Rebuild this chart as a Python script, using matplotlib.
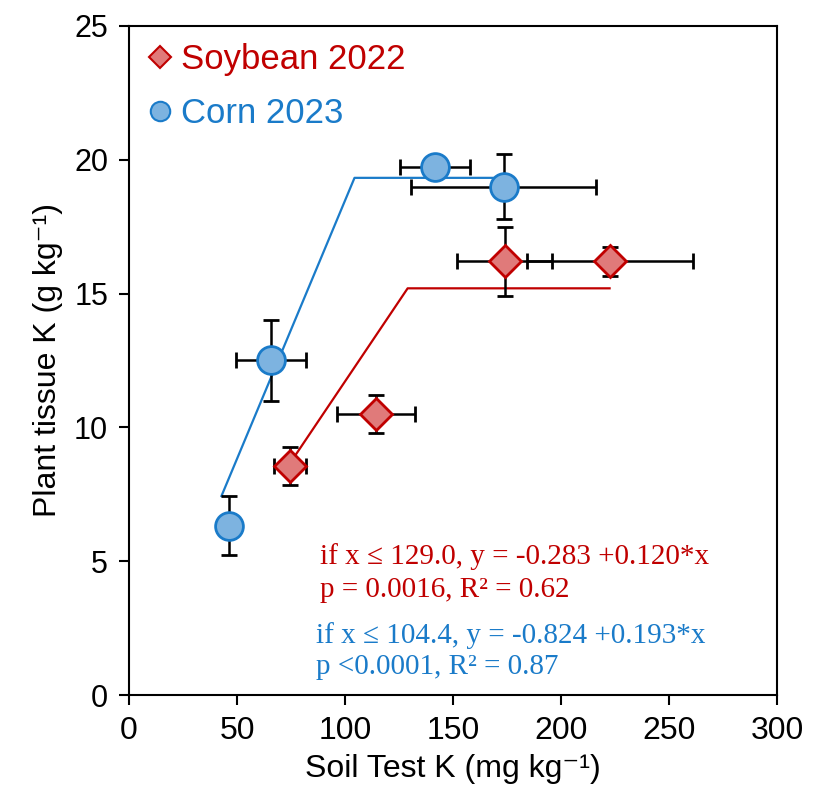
import matplotlib.pyplot as plt
from matplotlib.lines import Line2D

# Soybean 2022: soil test K vs tissue K with standard errors
soy_x = [74.5, 114.4, 174.0, 222.5]
soy_y = [8.55, 10.5, 16.2, 16.2]
soy_xerr = [7.6, 18.0, 22.0, 38.4]
soy_yerr = [0.7, 0.7, 1.3, 0.55]

# Corn 2023
corn_x = [46.3, 65.7, 141.5, 173.5]
corn_y = [6.32, 12.5, 19.72, 19.0]
corn_xerr = [2.5, 16.2, 16.2, 42.8]
corn_yerr = [1.1, 1.5, 0.4, 1.2]

# Linear-plateau fits: (intercept, slope, join point)
soy_fit = (-0.283, 0.120, 129.0)
corn_fit = (-0.824, 0.193, 104.4)

soy_eq = ["if x ≤ 129.0, y = -0.283 +0.120*x", "p = 0.0016, R² = 0.62"]
corn_eq = ["if x ≤ 104.4, y = -0.824 +0.193*x", "p <0.0001, R² = 0.87"]

red = '#C00000'
red_fill = '#E07A7A'
blue = '#1A7BC9'
blue_fill = '#7DB3E0'

narrow = ['Liberation Sans Narrow', 'Liberation Sans', 'DejaVu Sans']
sans = ['Liberation Sans', 'DejaVu Sans']
serif = ['Liberation Serif', 'DejaVu Serif']


def plateau_line(fit, x_start, x_end):
    b0, b1, jp = fit
    xs = [x_start, jp, x_end]
    ys = [b0 + b1 * x_start, b0 + b1 * jp, b0 + b1 * jp]
    return xs, ys


fig = plt.figure(figsize=(8.13, 8.02), dpi=100)
ax = fig.add_axes([0.1587, 0.1334, 0.797, 0.8342])

# fitted lines under the points
xs, ys = plateau_line(corn_fit, 42.8, max(corn_x))
ax.plot(xs, ys, color=blue, lw=1.6, zorder=2)
xs, ys = plateau_line(soy_fit, min(soy_x), max(soy_x))
ax.plot(xs, ys, color=red, lw=1.6, zorder=2)

ax.errorbar(soy_x, soy_y, xerr=soy_xerr, yerr=soy_yerr, fmt='D', ms=16,
            mfc=red_fill, mec=red, mew=2, ecolor='black', elinewidth=1.8,
            capsize=6, capthick=1.8, zorder=3)
ax.errorbar(corn_x, corn_y, xerr=corn_xerr, yerr=corn_yerr, fmt='o', ms=20,
            mfc=blue_fill, mec=blue, mew=2, ecolor='black', elinewidth=1.8,
            capsize=6, capthick=1.8, zorder=3)

ax.set_xlim(0, 300)
ax.set_ylim(0, 25)
ax.set_xticks(range(0, 301, 50))
ax.set_yticks(range(0, 26, 5))
ax.tick_params(direction='out', length=7, width=1.5, pad=8)
for lbl in ax.get_xticklabels():
    lbl.set_fontfamily(narrow)
    lbl.set_fontsize(23)
for lbl in ax.get_yticklabels():
    lbl.set_fontfamily(sans)
    lbl.set_fontsize(22)
for sp in ax.spines.values():
    sp.set_linewidth(1.5)

ax.set_xlabel('Soil Test K (mg kg⁻¹)', family=narrow, fontsize=23, labelpad=6)
ax.set_ylabel('Plant tissue K (g kg⁻¹)', family=narrow, fontsize=23, labelpad=8)

# legend
handles = [
    Line2D([], [], marker='D', ls='none', ms=11, mfc=red_fill, mec=red, mew=1.5),
    Line2D([], [], marker='o', ls='none', ms=14, mfc=blue_fill, mec=blue, mew=1.5),
]
ax.legend(handles, ['Soybean 2022', 'Corn 2023'], loc='upper left', frameon=False,
          prop={'family': sans, 'size': 25}, labelcolor=[red, blue],
          handlelength=0.8, handletextpad=0.2, labelspacing=0.6,
          borderaxespad=0.1, bbox_to_anchor=(0.0, 1.0))

# fit equations, one text per line
for line, y in zip(soy_eq, [5.16, 3.93]):
    ax.text(88.4, y, line, color=red, family=serif, fontsize=21,
            va='center', ha='left')
for line, y in zip(corn_eq, [2.21, 1.05]):
    ax.text(86.6, y, line, color=blue, family=serif, fontsize=21,
            va='center', ha='left')

fig.savefig('out.png', dpi=100)
